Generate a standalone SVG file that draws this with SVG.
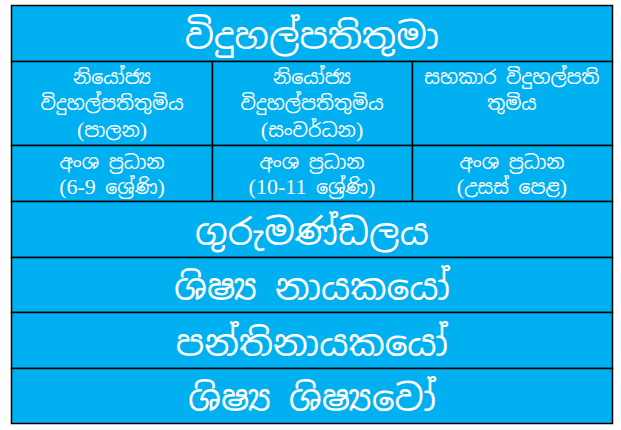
<svg xmlns="http://www.w3.org/2000/svg" width="621" height="430" viewBox="0 0 621 430">
<style>
.cell{fill:#00B0F0;stroke:#000;stroke-width:1.5}
text{fill:#fff;font-family:"Iskoola Pota","Noto Sans Sinhala","Noto Sans",sans-serif;text-anchor:middle}
.big{font-size:36px}
.sm{font-size:19px}
.lat{font-family:"Liberation Serif",serif;font-size:22px}
</style>
<rect width="621" height="430" fill="#fff"/>
<g id="n-principal"><rect class="cell" x="11.5" y="5.5" width="601" height="56"/><text class="big" x="312" y="49">විදුහල්පතිතුමා</text></g>
<g id="n-deputy-admin"><rect class="cell" x="11.5" y="61.5" width="201" height="84"/><text class="sm" x="112" y="84">නියෝජ්‍ය</text><text class="sm" x="112" y="110">විදුහල්පතිතුමිය</text><text class="sm" x="112" y="137"><tspan class="lat">(</tspan>පාලන<tspan class="lat">)</tspan></text></g>
<g id="n-deputy-dev"><rect class="cell" x="212.5" y="61.5" width="200" height="84"/><text class="sm" x="312" y="84">නියෝජ්‍ය</text><text class="sm" x="312" y="110">විදුහල්පතිතුමිය</text><text class="sm" x="312" y="137"><tspan class="lat">(</tspan>සංවර්ධන<tspan class="lat">)</tspan></text></g>
<g id="n-assistant"><rect class="cell" x="412.5" y="61.5" width="200" height="84"/><text class="sm" x="512" y="84">සහකාර  විදුහල්පති</text><text class="sm" x="512" y="110">තුමිය</text></g>
<g id="n-head-6-9"><rect class="cell" x="11.5" y="145.5" width="201" height="56"/><text class="sm" x="112" y="169">අංශ ප්‍රධාන</text><text class="sm" x="112" y="194"><tspan class="lat">(6-9</tspan> ශ්‍රේණි<tspan class="lat">)</tspan></text></g>
<g id="n-head-10-11"><rect class="cell" x="212.5" y="145.5" width="200" height="56"/><text class="sm" x="312" y="169">අංශ ප්‍රධාන</text><text class="sm" x="312" y="194"><tspan class="lat">(10-11</tspan> ශ්‍රේණි<tspan class="lat">)</tspan></text></g>
<g id="n-head-al"><rect class="cell" x="412.5" y="145.5" width="200" height="56"/><text class="sm" x="512" y="169">අංශ ප්‍රධාන</text><text class="sm" x="512" y="194"><tspan class="lat">(</tspan>උසස් පෙළ<tspan class="lat">)</tspan></text></g>
<g id="n-staff"><rect class="cell" x="11.5" y="201.5" width="601" height="56"/><text class="big" x="312" y="245">ගුරුමණ්ඩලය</text></g>
<g id="n-prefects"><rect class="cell" x="11.5" y="257.5" width="601" height="55"/><text class="big" x="312" y="300">ශිෂ්‍ය නායකයෝ</text></g>
<g id="n-monitors"><rect class="cell" x="11.5" y="312.5" width="601" height="56"/><text class="big" x="312" y="356">පන්තිනායකයෝ</text></g>
<g id="n-students"><rect class="cell" x="11.5" y="368.5" width="601" height="55"/><text class="big" x="312" y="411">ශිෂ්‍ය ශිෂ්‍යවෝ</text></g>
<g id="connectors"></g>
</svg>
